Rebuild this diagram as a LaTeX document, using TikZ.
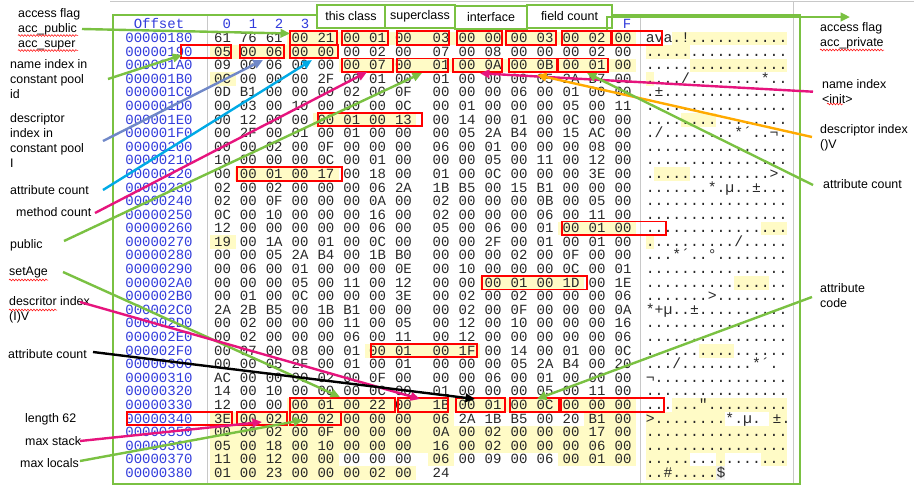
\documentclass[tikz,border=0pt]{standalone}
\usepackage{fontspec}
\setmainfont{Liberation Sans}
\newfontfamily\hexfont{Liberation Mono}
\usetikzlibrary{arrows.meta,decorations.pathmorphing}
\definecolor{gr}{RGB}{122,193,66}
\definecolor{pk}{RGB}{230,20,125}
\definecolor{bl}{RGB}{112,136,200}
\definecolor{cy}{RGB}{0,170,230}
\definecolor{og}{RGB}{255,170,0}
\definecolor{hl}{RGB}{255,251,198}
\definecolor{offblue}{RGB}{50,60,220}
\definecolor{gline}{RGB}{200,200,200}
\definecolor{hexink}{RGB}{40,40,40}
\pgfmathdeclarefunction{rowy}{1}{\pgfmathparse{38.3+13.59*#1}}
\pgfmathdeclarefunction{colx}{1}{\pgfmathparse{ifthenelse(#1<8,222.5+25.85*#1,441+26*(#1-8))}}
\tikzset{
  lbl/.style={font=\fontsize{12.4}{15}\selectfont, align=left, inner sep=0pt, anchor=west},
  hx/.style={font=\hexfont\fontsize{14}{14}\selectfont, text=hexink, inner sep=0pt, text height=8.5pt, text depth=0pt},
  offs/.style={hx, text=offblue},
  asc/.style={font=\hexfont\fontsize{14.75}{14}\selectfont, text=hexink, inner sep=0pt, anchor=base west},
  rb/.style={draw=red, line width=1.8pt},
  cbox/.style={draw=gr, line width=2pt, fill=white, inner sep=0pt, minimum height=23, font=\fontsize{12.5}{14}\selectfont},
  conn/.style={line width=2.4pt, -{Triangle[length=9.5pt,width=8.5pt]}},
  wavy/.style={draw=red, line width=0.5pt, decorate, decoration={snake, amplitude=0.9pt, segment length=3pt}},
}
\newcommand\hexrow[3]{%
  \pgfmathsetmacro\yy{rowy(#1)}%
  \node[offs] (o#1) at (159,\yy) {#2};%
  \foreach \b [count=\i from 0] in {#3} {%
    \pgfmathsetmacro\xx{colx(\i)}%
    \node[hx] (h#1-\i) at (\xx,\yy) {\b};%
  }%
}
\newcommand\ascrow[2]{\node[asc] (a#1) at (645.6,{rowy(#1)+4.25}) {#2};}
\newcommand\hlx[3]{\fill[hl] ({colx(#2)-13},{rowy(#1)-6.8}) rectangle ({colx(#3)+13},{rowy(#1)+6.8});}
\newcommand\hla[3]{\fill[hl] ({650+8.85*#2-4.43},{rowy(#1)-6.8}) rectangle ({650+8.85*#3+4.43},{rowy(#1)+6.8});}
\newcommand\rbx[3]{\draw[rb] (#2,{rowy(#1)-7}) rectangle (#3,{rowy(#1)+6.5});}
\begin{document}
\begin{tikzpicture}[x=1pt,y=-1pt]
\useasboundingbox (0,0) rectangle (914,488);
\fill[white] (0,0) rectangle (914,488);
% highlights (hex)
\hlx{0}{3}{15}\hlx{1}{0}{4}\hlx{2}{5}{15}\hlx{3}{0}{0}\hlx{6}{4}{7}\hlx{10}{1}{4}
\hlx{14}{13}{15}\hlx{15}{0}{0}\hlx{18}{10}{13}\hlx{23}{6}{9}\hlx{27}{3}{15}
\hlx{28}{0}{8}\hlx{28}{14}{15}\hlx{29}{0}{15}\hlx{30}{0}{15}
\hlx{31}{0}{4}\hlx{31}{8}{8}\hlx{31}{13}{15}\hlx{32}{0}{7}
% highlights (ascii)
\hla{0}{3}{15}\hla{1}{0}{4}\hla{2}{5}{15}\hla{3}{0}{0}\hla{6}{4}{7}\hla{10}{1}{4}
\hla{14}{13}{15}\hla{15}{0}{0}\hla{18}{10}{13}\hla{23}{6}{9}\hla{27}{3}{15}
\hla{28}{0}{8}\hla{28}{14}{15}\hla{29}{0}{15}\hla{30}{0}{15}
\hla{31}{0}{4}\hla{31}{8}{8}\hla{31}{13}{15}\hla{32}{0}{7}
\fill[gray!12] ({650+8.85*8-4.43},{rowy(32)-6.8}) rectangle ({650+8.85*8+4.43},{rowy(32)+6.8});
% editor grid lines
\draw[gline, line width=0.8pt] (110,1.5) -- (914,1.5);
\draw[gline, line width=0.8pt] (207.5,16) -- (207.5,483);
\draw[gline, line width=0.8pt] (640,16) -- (640,483);
\draw[gline, line width=0.8pt] (793,1.5) -- (793,483);
% header
\node[offs] (hOff) at (159,24) {Offset};
\node[offs] (hc0) at (226.7,24) {0};
\node[offs] (hc1) at (253,24) {1};
\node[offs] (hc2) at (279,24) {2};
\node[offs] (hc3) at (305,24) {3};
\node[offs] (hcF) at (627,24) {F};
% hex rows
\hexrow{0}{00000180}{61,76,61,00,21,00,01,00,03,00,00,00,03,00,02,00}
\hexrow{1}{00000190}{05,00,06,00,00,00,02,00,07,00,08,00,00,00,02,00}
\hexrow{2}{000001A0}{09,00,06,00,00,00,07,00,01,00,0A,00,0B,00,01,00}
\hexrow{3}{000001B0}{0C,00,00,00,2F,00,01,00,01,00,00,00,05,2A,B7,00}
\hexrow{4}{000001C0}{0D,B1,00,00,00,02,00,0F,00,00,00,06,00,01,00,00}
\hexrow{5}{000001D0}{00,03,00,10,00,00,00,0C,00,01,00,00,00,05,00,11}
\hexrow{6}{000001E0}{00,12,00,00,00,01,00,13,00,14,00,01,00,0C,00,00}
\hexrow{7}{000001F0}{00,2F,00,01,00,01,00,00,00,05,2A,B4,00,15,AC,00}
\hexrow{8}{00000200}{00,00,02,00,0F,00,00,00,06,00,01,00,00,00,08,00}
\hexrow{9}{00000210}{10,00,00,00,0C,00,01,00,00,00,05,00,11,00,12,00}
\hexrow{10}{00000220}{00,00,01,00,17,00,18,00,01,00,0C,00,00,00,3E,00}
\hexrow{11}{00000230}{02,00,02,00,00,00,06,2A,1B,B5,00,15,B1,00,00,00}
\hexrow{12}{00000240}{02,00,0F,00,00,00,0A,00,02,00,00,00,0B,00,05,00}
\hexrow{13}{00000250}{0C,00,10,00,00,00,16,00,02,00,00,00,06,00,11,00}
\hexrow{14}{00000260}{12,00,00,00,00,00,06,00,05,00,06,00,01,00,01,00}
\hexrow{15}{00000270}{19,00,1A,00,01,00,0C,00,00,00,2F,00,01,00,01,00}
\hexrow{16}{00000280}{00,00,05,2A,B4,00,1B,B0,00,00,00,02,00,0F,00,00}
\hexrow{17}{00000290}{00,06,00,01,00,00,00,0E,00,10,00,00,00,0C,00,01}
\hexrow{18}{000002A0}{00,00,00,05,00,11,00,12,00,00,00,01,00,1D,00,1E}
\hexrow{19}{000002B0}{00,01,00,0C,00,00,00,3E,00,02,00,02,00,00,00,06}
\hexrow{20}{000002C0}{2A,2B,B5,00,1B,B1,00,00,00,02,00,0F,00,00,00,0A}
\hexrow{21}{000002D0}{00,02,00,00,00,11,00,05,00,12,00,10,00,00,00,16}
\hexrow{22}{000002E0}{00,02,00,00,00,06,00,11,00,12,00,00,00,00,00,06}
\hexrow{23}{000002F0}{00,07,00,08,00,01,00,01,00,1F,00,14,00,01,00,0C}
\hexrow{24}{00000300}{00,00,05,2F,00,01,00,01,00,00,00,05,2A,B4,00,20}
\hexrow{25}{00000310}{AC,00,00,00,02,00,0F,00,00,00,06,00,01,00,00,00}
\hexrow{26}{00000320}{14,00,10,00,00,00,0C,00,01,00,00,00,05,00,11,00}
\hexrow{27}{00000330}{12,00,00,00,01,00,22,00,1B,00,01,00,0C,00,00,00}
\hexrow{28}{00000340}{3E,00,02,00,02,00,00,00,06,2A,1B,B5,00,20,B1,00}
\hexrow{29}{00000350}{00,00,02,00,0F,00,00,00,0A,00,02,00,00,00,17,00}
\hexrow{30}{00000360}{05,00,18,00,10,00,00,00,16,00,02,00,00,00,06,00}
\hexrow{31}{00000370}{11,00,12,00,00,00,00,00,06,00,09,00,06,00,01,00}
\hexrow{32}{00000380}{01,00,23,00,00,00,02,00,24}
% ascii column
\ascrow{0}{ava.!...........}
\ascrow{1}{................}
\ascrow{2}{................}
\ascrow{3}{..../........*..}
\ascrow{4}{.±..............}
\ascrow{5}{................}
\ascrow{6}{................}
\ascrow{7}{./........*´..¬.}
\ascrow{8}{................}
\ascrow{9}{................}
\ascrow{10}{..............>.}
\ascrow{11}{.......*.µ..±...}
\ascrow{12}{................}
\ascrow{13}{................}
\ascrow{14}{................}
\ascrow{15}{........../.....}
\ascrow{16}{...*´..°........}
\ascrow{17}{................}
\ascrow{18}{................}
\ascrow{19}{.......>........}
\ascrow{20}{*+µ..±..........}
\ascrow{21}{................}
\ascrow{22}{................}
\ascrow{23}{................}
\ascrow{24}{.../........*´.}
\ascrow{25}{¬...............}
\ascrow{26}{................}
\ascrow{27}{......".........}
\ascrow{28}{>........*.µ. ±.}
\ascrow{29}{................}
\ascrow{30}{................}
\ascrow{31}{................}
\ascrow{32}{..\#.....\$}
% red boxes
\rbx{0}{290}{337}\rbx{0}{342}{388}\rbx{0}{397}{449}\rbx{0}{457}{502}\rbx{0}{506}{556}\rbx{0}{562}{611}\rbx{0}{612}{662}
\rbx{1}{181}{231}\rbx{1}{240}{284}\rbx{1}{290}{338}
\rbx{2}{342}{393}\rbx{2}{397}{448}\rbx{2}{453}{502}\rbx{2}{509}{557}\rbx{2}{558}{608}
\rbx{6}{318}{422}
\rbx{10}{237}{342}
\rbx{14}{562}{666}
\rbx{18}{482}{587}
\rbx{23}{371}{477}
\rbx{27}{290}{395}\rbx{27}{398}{448}\rbx{27}{456}{505}\rbx{27}{510}{559}\rbx{27}{561}{664}
\rbx{28}{127}{232}\rbx{28}{237}{287}\rbx{28}{290}{341}
% panel frame
\draw[gr, line width=2.3pt] (113,15) rectangle (800,484);
% header boxes
\node[cbox, minimum width=68] (bThis) at (351,16.5) {this class};
\node[cbox, minimum width=70] (bSuper) at (420,16.5) {superclass};
\node[cbox, minimum width=72] (bIntf) at (491,17.5) {interface};
\node[cbox, minimum width=85] (bField) at (569.5,16.5) {field count};
% labels left
\node[lbl] (L1) at (18,29) {access flag\\acc\_public\\acc\_super};
\node[lbl] (L2) at (10,79) {name index in\\constant pool\\id};
\node[lbl] (L3) at (10,140.5) {descriptor\\index in\\constant pool\\I};
\node[lbl] (L4) at (10,190) {attribute count};
\node[lbl] (L5) at (16,212) {method count};
\node[lbl] (L6) at (10,245) {public};
\node[lbl] (L7) at (9,273) {setAge};
\node[lbl] (L8) at (9,310) {descritor index\\(I)V};
\node[lbl] (L9) at (8,354) {attribute count};
\node[lbl] (L10) at (25,419) {length 62};
\node[lbl] (L11) at (25,441) {max stack};
\node[lbl] (L12) at (20,463) {max locals};
% labels right
\node[lbl] (R1) at (820,36) {access flag\\acc\_private};
\node[lbl] (R2) at (822,92) {name index\\<init>};
\node[lbl] (R3) at (820,138) {descriptor index\\()V};
\node[lbl] (R4) at (823,184) {attribute count};
\node[lbl] (R5) at (820,296) {attribute\\code};
% spell-check underlines
\draw[wavy] (18,35.5) -- (78,35.5);
\draw[wavy] (18,50.5) -- (78,50.5);
\draw[wavy] (820,50) -- (884,50);
\draw[wavy] (827,104) -- (843,104);
\draw[wavy] (9,310) -- (57,310);
\draw[wavy] (9,280) -- (48,280);
% connector endpoints
\coordinate (s1) at (82,29);   \coordinate (e1) at (290,33.5);
\coordinate (s2) at (108,79);  \coordinate (e2) at (182,55);
\coordinate (s3) at (103,141); \coordinate (e3) at (263,60);
\coordinate (s4) at (103,190); \coordinate (e4) at (312,60);
\coordinate (s5) at (95,213);  \coordinate (e5) at (367,72);
\coordinate (s6) at (64,241);  \coordinate (e6) at (422,73);
\coordinate (s7) at (63,272);  \coordinate (e7) at (340,397);
\coordinate (s8) at (80,302);  \coordinate (e8) at (420,399);
\coordinate (s9) at (93,352);  \coordinate (e9) at (475,399);
\coordinate (s11) at (80,441); \coordinate (e11) at (262,422);
\coordinate (s12) at (80,461); \coordinate (e12) at (303,420);
\coordinate (t1) at (607,30);  \coordinate (t1b) at (607,17); \coordinate (u1) at (850,17);
\coordinate (t2) at (813,91.7);\coordinate (u2) at (480,73.3);
\coordinate (t3) at (812,137); \coordinate (u3) at (537,75);
\coordinate (t4) at (813,185); \coordinate (u4) at (587,73);
\coordinate (t5) at (812,297); \coordinate (u5) at (537,399);
% connectors
\draw[conn, gr] (s1) -- (e1);
\draw[conn, gr] (s2) -- (e2);
\draw[conn, bl] (s3) -- (e3);
\draw[conn, cy] (s4) -- (e4);
\draw[conn, pk] (s5) -- (e5);
\draw[conn, gr] (s6) -- (e6);
\draw[conn, gr] (s7) -- (e7);
\draw[conn, pk] (s8) -- (e8);
\draw[conn, black] (s9) -- (e9);
\draw[conn, pk] (s11) -- (e11);
\draw[conn, gr] (s12) -- (e12);
\draw[conn, gr] (t1) -- (t1b) -- (u1);
\draw[conn, pk] (t2) -- (u2);
\draw[conn, og] (t3) -- (u3);
\draw[conn, gr] (t4) -- (u4);
\draw[conn, gr] (t5) -- (u5);
\end{tikzpicture}
\end{document}
